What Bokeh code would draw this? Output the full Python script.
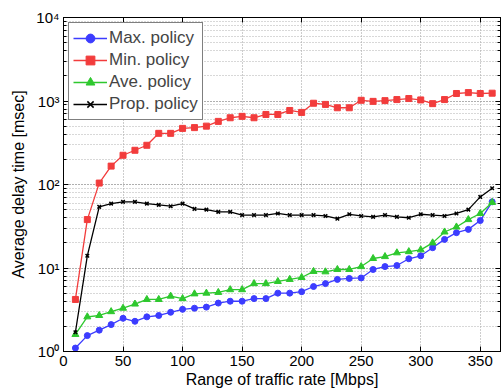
from bokeh.plotting import figure
from bokeh.models import (LinearAxis, LogAxis, SingleIntervalTicker, LogTicker,
                          CustomJSTickFormatter, Range1d)
from bokeh.embed import file_html
from bokeh.resources import INLINE

rate = [10, 20, 30, 40, 50, 60, 70, 80, 90, 100, 110, 120, 130, 140, 150, 160, 170, 180,
        190, 200, 210, 220, 230, 240, 250, 260, 270, 280, 290, 300, 310, 320, 330, 340, 350, 360]

max_policy = [1.1, 1.55, 1.8, 2.1, 2.5, 2.3, 2.6, 2.7, 2.95, 3.2, 3.3, 3.4, 3.8, 4.0, 4.0, 4.3,
              4.3, 5.0, 5.0, 5.2, 6.0, 6.5, 7.3, 7.5, 7.6, 9.6, 10.4, 10.7, 12.9, 14.0, 17.5, 22.0,
              26.5, 29.0, 37.0, 62.0]
min_policy = [4.2, 38, 104, 166, 224, 257, 295, 410, 410, 470, 480, 500, 570, 630, 655, 630,
              690, 690, 770, 730, 940, 910, 830, 830, 1020, 990, 1010, 1040, 1070, 1030, 930, 1040,
              1230, 1260, 1230, 1240]
ave_policy = [1.6, 2.6, 2.7, 3.0, 3.3, 3.7, 4.2, 4.2, 4.6, 4.3, 4.9, 5.0, 5.1, 5.5, 5.5, 6.5,
              6.5, 6.9, 7.3, 7.7, 9.1, 9.0, 9.6, 9.6, 10.4, 13.0, 13.7, 15.2, 15.7, 16.5, 20.0, 27.0,
              31.0, 38.0, 45.0, 61.0]
prop_policy = [1.7, 14, 54, 59, 62, 62, 59, 57, 55, 59, 51, 50, 47, 47, 43, 43,
               43, 45, 43, 43, 43, 42, 39, 44, 42, 41, 43, 41, 40, 44, 43, 42,
               45, 50, 71, 90]

x_ticks_interval = 50
y_tick_labels = {1: "10\u2070", 10: "10\u00b9", 100: "10\u00b2", 1000: "10\u00b3", 10000: "10\u2074"}

FONT = "Liberation Sans"

p = figure(width=503, height=390, y_axis_type="log",
           x_range=Range1d(0, 367), y_range=Range1d(1, 10000),
           output_backend="svg", toolbar_location=None,
           min_border_left=63, min_border_right=3, min_border_top=17, min_border_bottom=38,
           background_fill_color="white", border_fill_color="white")

p.outline_line_color = "black"
p.outline_line_width = 1

# axes
p.xaxis.ticker = SingleIntervalTicker(interval=x_ticks_interval, num_minor_ticks=0)
p.yaxis.ticker = LogTicker(num_minor_ticks=10)
p.yaxis.major_label_overrides = y_tick_labels
for ax in (p.xaxis[0], p.yaxis[0]):
    ax.major_tick_in = 5
    ax.major_tick_out = 0
    ax.minor_tick_in = 3
    ax.minor_tick_out = 0
    ax.axis_line_color = "black"
    ax.major_label_text_font = FONT
    ax.major_label_text_font_size = "15px"
    ax.major_label_text_color = "black"
    ax.axis_label_text_font = FONT
    ax.axis_label_text_font_size = "16px"
    ax.axis_label_text_font_style = "normal"
    ax.axis_label_text_color = "black"
p.xaxis.axis_label = "Range of traffic rate [Mbps]"
p.yaxis.axis_label = "Average delay time [msec]"
p.xaxis.major_label_standoff = 4
p.xaxis.axis_label_standoff = 2
p.yaxis.major_label_standoff = 4
p.yaxis.axis_label_standoff = 6

empty = CustomJSTickFormatter(code="return ''")
top = LinearAxis(ticker=SingleIntervalTicker(interval=x_ticks_interval, num_minor_ticks=0),
                 formatter=empty, major_tick_in=5, major_tick_out=0, minor_tick_out=0,
                 major_label_standoff=0, major_label_text_font_size="1px")
right = LogAxis(ticker=LogTicker(num_minor_ticks=10), formatter=empty,
                major_tick_in=5, major_tick_out=0, minor_tick_in=3, minor_tick_out=0,
                major_label_standoff=0, major_label_text_font_size="1px")
p.add_layout(top, "above")
p.add_layout(right, "right")

# grid
for g in (p.xgrid[0], p.ygrid[0]):
    g.grid_line_color = "#9a9a9a"
    g.grid_line_dash = "1 2"
    g.grid_line_width = 1
p.ygrid.minor_grid_line_color = "#b0b0b0"
p.ygrid.minor_grid_line_dash = "1 2"

series = [
    ("Max. policy", max_policy, "#3c3cff", "circle", 6),
    ("Min. policy", min_policy, "#f23c3c", "square", 6),
    ("Ave. policy", ave_policy, "#2ec82e", "triangle", 7),
    ("Prop. policy", prop_policy, "black", "x", 5),
]
for name, vals, col, mk, sz in series:
    p.line(rate, vals, line_color=col, line_width=1.3, legend_label=name)
    p.scatter(rate, vals, marker=mk, size=sz, fill_color=col, line_color=col,
              line_width=1.5 if mk == "x" else 1, legend_label=name)

lg = p.legend[0]
lg.location = "top_left"
lg.margin = 5
lg.padding = 4
lg.spacing = 0
lg.label_text_font = FONT
lg.label_text_font_size = "17px"
lg.label_height = 22
lg.glyph_height = 22
lg.glyph_width = 34
lg.label_standoff = 2
lg.border_line_color = "black"
lg.border_line_width = 1
lg.background_fill_color = "white"
lg.background_fill_alpha = 1

open("out.html", "w").write(file_html(p, INLINE))
